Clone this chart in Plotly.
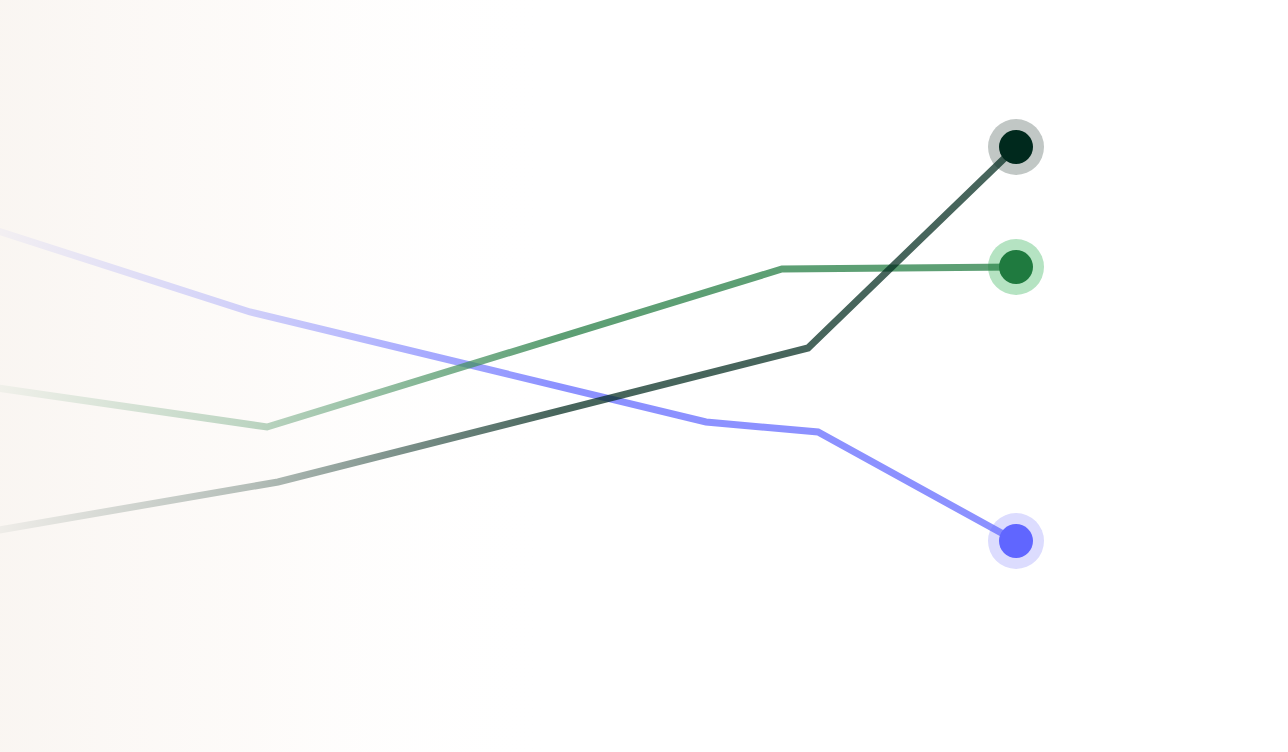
import plotly.graph_objects as go

# ---- data (x: period, y: value) ----
series_names = ["Indigo", "Leaf", "Forest"]
indigo_x = [-0.3, 2.50, 7.06, 8.18, 10.16]
indigo_y = [5.30, 4.40, 3.30, 3.20, 2.11]
leaf_x = [-0.3, 2.67, 7.82, 10.16]
leaf_y = [3.68, 3.25, 4.83, 4.85]
forest_x = [-0.3, 2.78, 8.08, 10.16]
forest_y = [2.17, 2.70, 4.04, 6.05]

dot_colors = ["#6066ff", "#1f7a3f", "#00291d"]
halo_colors = ["#dcdcfe", "#b5e3c2", "#c1c7c5"]
line_colors = ["rgba(96,102,255,0.72)", "rgba(31,122,63,0.72)", "rgba(0,41,29,0.72)"]

xs = [indigo_x, leaf_x, forest_x]
ys = [indigo_y, leaf_y, forest_y]

fig = go.Figure()

# halos behind the lines
fig.add_trace(go.Scatter(
    x=[x[-1] for x in xs], y=[y[-1] for y in ys], mode="markers",
    marker=dict(size=56, color=halo_colors, line=dict(width=0)),
    hoverinfo="skip", showlegend=False))

# lines
for name, x, y, c in zip(series_names, xs, ys, line_colors):
    fig.add_trace(go.Scatter(x=x, y=y, mode="lines", name=name,
                             line=dict(color=c, width=7), showlegend=False))

# end dots
fig.add_trace(go.Scatter(
    x=[x[-1] for x in xs], y=[y[-1] for y in ys], mode="markers",
    marker=dict(size=34, color=dot_colors, line=dict(width=0)),
    hoverinfo="skip", showlegend=False))

# left fade overlay
fig.add_trace(go.Scatter(
    x=[-0.5, 5.6, 5.6, -0.5, -0.5], y=[-1, -1, 9, 9, -1], mode="lines",
    fill="toself", line=dict(width=0, color="rgba(0,0,0,0)"),
    fillgradient=dict(type="horizontal", start=0, stop=5.6, colorscale=[
        [0.0, "rgba(249,245,241,0.94)"],
        [0.45, "rgba(252,248,245,0.6)"],
        [0.75, "rgba(254,252,251,0.25)"],
        [1.0, "rgba(255,255,255,0)"]]),
    hoverinfo="skip", showlegend=False))

fig.update_layout(
    width=1288, height=752,
    margin=dict(l=0, r=0, t=0, b=0),
    paper_bgcolor="white", plot_bgcolor="white",
    xaxis=dict(range=[0, 12.88], visible=False, fixedrange=True),
    yaxis=dict(range=[0, 7.52], visible=False, fixedrange=True),
)

fig.write_html("out.html", config={"displayModeBar": False},
               post_script="document.body.style.margin='0';")
